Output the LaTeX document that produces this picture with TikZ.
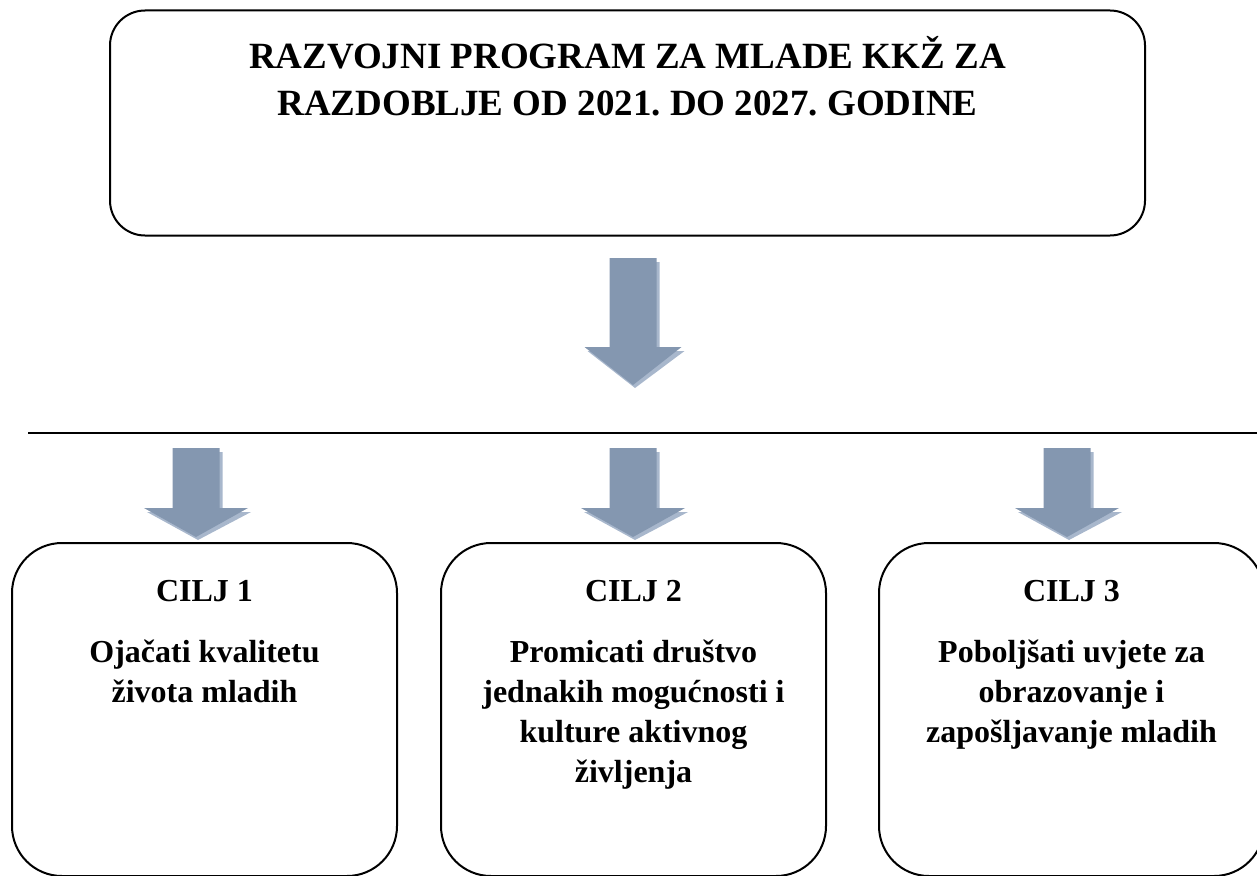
\documentclass[tikz,border=0pt]{standalone}
\usepackage{fontspec}
\setmainfont{Liberation Serif}
\usetikzlibrary{positioning}
\frenchspacing
\definecolor{arrowblue}{RGB}{132,151,176}
\definecolor{arrowshade}{RGB}{168,183,204}
% block arrow pointing down: centre x, top y, tip y, half shaft, half head, wing y
\newcommand{\blockarrow}[6]{%
  \fill[arrowshade] ({#1-#4+3},{-#2-4}) -- ({#1+#4+3},{-#2-4}) -- ({#1+#4+3},{-#6-4})
    -- ({#1+#5+3},{-#6-4}) -- ({#1+2},{-#3-3}) -- ({#1-#5+3},{-#6-4})
    -- ({#1-#4+3},{-#6-4}) -- cycle;
  \fill[arrowblue] ({#1-#4},{-#2}) -- ({#1+#4},{-#2}) -- ({#1+#4},{-#6})
    -- ({#1+#5},{-#6}) -- (#1,{-#3}) -- ({#1-#5},{-#6})
    -- ({#1-#4},{-#6}) -- cycle;}
\tikzset{
  progbox/.style={draw=black,line width=2pt,rounded corners=35pt,
    minimum width=1035pt,minimum height=225pt,inner sep=0pt},
  ciljbox/.style={draw=black,line width=2pt,rounded corners=50pt,
    minimum width=385pt,minimum height=333pt,inner sep=0pt},
  titletext/.style={inner sep=0pt,anchor=base,
    font={\fontsize{37}{47}\selectfont\bfseries}},
  ciljhead/.style={inner sep=0pt,anchor=base,
    font={\fontsize{32}{40}\selectfont\bfseries}},
  ciljtext/.style={inner sep=0pt,anchor=north,align=center,
    font={\fontsize{32}{40}\selectfont\bfseries}},
}
\begin{document}
\begin{tikzpicture}[x=1pt,y=1pt]
\useasboundingbox (0,0) rectangle (1257,-875);
% \draw[help lines,step=100] (0,0) grid (1257,-875);
\node (prog) [progbox] at (627.5,-123) {};
\node (title1) [titletext] at (627.5,-68) {RAZVOJNI PROGRAM ZA MLADE KKŽ ZA};
\node (title2) [titletext] at (627.5,-115) {RAZDOBLJE OD 2021. DO 2027. GODINE};
%
\blockarrow{633}{258}{385}{23.5}{48.5}{347}
%
\coordinate (lineL) at (28,-433);
\coordinate (lineR) at (1257,-433);
\draw[line width=1.6pt] (lineL) -- (lineR);
%
\blockarrow{196}{448}{537}{23.5}{52}{508}
\blockarrow{633}{448}{537}{23.5}{52}{508}
\blockarrow{1067}{448}{537}{23.5}{52}{508}
%
\node (c1) [ciljbox] at (204.5,-709.5) {};
\node (c2) [ciljbox] at (633.5,-709.5) {};
\node (c3) [ciljbox] at (1071.5,-709.5) {};
%
\node (h1) [ciljhead] at (204.5,-601) {CILJ 1};
\node (h2) [ciljhead] at (633.5,-601) {CILJ 2};
\node (h3) [ciljhead] at (1071.5,-601) {CILJ 3};
% first baseline at 662, strut height 28
\node (t1) [ciljtext] at (204.5,-634) {\strut Ojačati kvalitetu\\života mladih};
\node (t2) [ciljtext] at (633.5,-634) {\strut Promicati društvo\\jednakih mogućnosti i\\kulture aktivnog\\življenja};
\node (t3) [ciljtext] at (1071.5,-634) {\strut Poboljšati uvjete za\\obrazovanje i\\zapošljavanje mladih};
\end{tikzpicture}
\end{document}
